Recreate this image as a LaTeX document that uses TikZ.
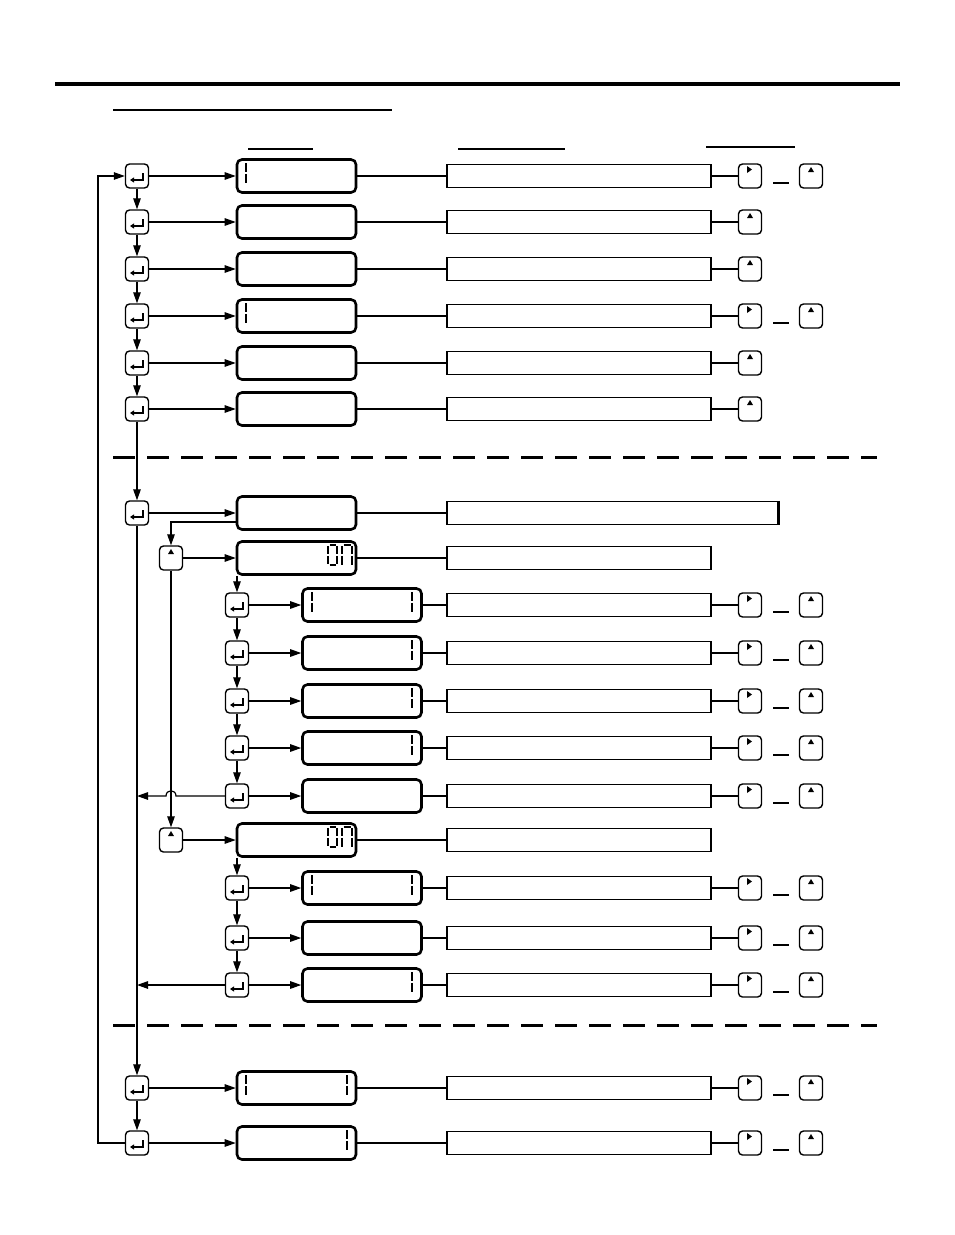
\documentclass[tikz,border=0pt]{standalone}
\usetikzlibrary{arrows.meta,calc}
\tikzset{
  btn/.style={draw, line width=1.4pt, rounded corners=4pt, minimum width=23pt, minimum height=24pt, inner sep=0pt, fill=white},
  esym/.style={line width=1.3pt, -{Triangle[length=4pt,width=5pt]}},
  disp/.style={draw, line width=2.6pt, rounded corners=5pt, minimum width=119pt, minimum height=33pt, inner sep=0pt},
  desc/.style={draw, line width=1.2pt, minimum width=264pt, minimum height=23pt, inner sep=0pt},
  arr/.style={line width=1.2pt, -{Triangle[length=11pt,width=7.5pt]}},
  conn/.style={line width=1.2pt},
  seg/.style={line width=2.3pt},
  sep/.style={line width=3pt, dash pattern=on 22pt off 12pt}
}
\newcommand\EB[2]{\node[btn] (#1) at (#2) {}; \draw[esym] ($(#1)+(6,-3)$) -- ++(0,7) -- ++(-13,0);}
\newcommand\UB[2]{\node[btn] (#1) at (#2) {}; \fill ($(#1)+(-3,-4)$) -- ++(6,0) -- ++(-3,-5) -- cycle;}
\newcommand\RB[2]{\node[btn] (#1) at (#2) {}; \fill ($(#1)+(-3,-10)$) -- ++(0,7) -- ++(5,-3.5) -- cycle;}
\newcommand\VBar[2]{\draw[seg] (#1,#2-13) -- (#1,#2-3.8) (#1,#2-2.2) -- (#1,#2+7);}
\newcommand\OnGlyph[1]{\draw[seg] (328,#1-12) -- (328,#1-3.8) (328,#1-2.2) -- (328,#1+6)
  (337,#1-12) -- (337,#1-3.8) (337,#1-2.2) -- (337,#1+6)
  (329.5,#1-13) -- (335.5,#1-13) (329.5,#1+7) -- (335.5,#1+7)
  (342,#1-12) -- (342,#1-3.8) (342,#1-2.2) -- (342,#1+7)
  (352,#1-12) -- (352,#1-3.8) (352,#1-2.2) -- (352,#1+7)
  (343.5,#1-13) -- (350.5,#1-13);}
\newcommand\Pair[2]{\RB{#1r}{750,#2}\UB{#1u}{811,#2}\draw[conn] (773,#2+7) -- (789,#2+7);}
\begin{document}
\begin{tikzpicture}[x=1pt,y=-1pt]
\useasboundingbox (0,0) rectangle (954,1235);
% header
\draw[line width=4pt] (55,84) -- (900,84);
\draw[line width=1.2pt] (113,110) -- (392,110);
\draw[line width=1.2pt] (248,149) -- (313,149);
\draw[line width=1.2pt] (458,149) -- (565,149);
\draw[line width=1.2pt] (706,147) -- (795,147);
% separators
\draw[sep] (113,457) -- (877,457);
\draw[sep] (113,1025) -- (877,1025);

% ---------- top section ----------
\EB{e1}{137,176} \EB{e2}{137,222} \EB{e3}{137,269} \EB{e4}{137,316} \EB{e5}{137,363} \EB{e6}{137,409}
\foreach \n/\y in {1/176,2/222,3/269,4/316,5/363,6/409}{
  \node[disp] (d\n) at (296.5,\y) {};
  \node[desc] (t\n) at (579,\y) {};
}
\VBar{246}{176}
\VBar{246}{316}
\Pair{p1}{176}
\UB{p2u}{750,222}
\UB{p3u}{750,269}
\Pair{p4}{316}
\UB{p5u}{750,363}
\UB{p6u}{750,409}
\foreach \n in {1,...,6}{ \draw[arr] (e\n) -- (d\n); }
\foreach \n in {1,...,5}{ \draw[conn] (d\n) -- (t\n); }
\draw[line width=2pt] (d6) -- (t6);
\draw[conn] (t1) -- (p1r); \draw[conn] (t2) -- (p2u); \draw[conn] (t3) -- (p3u);
\draw[conn] (t4) -- (p4r); \draw[conn] (t5) -- (p5u); \draw[conn] (t6) -- (p6u);
\draw[arr] (e1) -- (e2); \draw[arr] (e2) -- (e3); \draw[arr] (e3) -- (e4);
\draw[arr] (e4) -- (e5); \draw[arr] (e5) -- (e6);

% ---------- middle section ----------
\EB{m1}{137,513}
\node[disp] (dm1) at (296.5,513) {};
\node[desc, minimum width=331pt] (tm1) at (612.5,513) {};
\draw[line width=2.4pt] (tm1.north east) -- (tm1.south east);
\draw[arr] (e6) -- (m1);
\draw[arr] (m1) -- (dm1);
\draw[conn] (dm1) -- (tm1);

\UB{u1}{171,558}
\node[disp] (du1) at (296.5,558) {};
\OnGlyph{558}
\node[desc] (tu1) at (579,558) {};
\draw[arr] ([yshift=-9pt]dm1.west) -| (u1);
\draw[arr] (u1) -- (du1);
\draw[conn] (du1) -- (tu1);

\foreach \n/\y in {1/605,2/653,3/701,4/748,5/796,6/888,7/938,8/985}{
  \EB{s\n}{237,\y}
  \node[disp] (ds\n) at (362,\y) {};
  \node[desc] (ts\n) at (579,\y) {};
  \Pair{q\n}{\y}
  \draw[arr] (s\n) -- (ds\n);
  \draw[conn] (ds\n) -- (ts\n);
  \draw[conn] (ts\n) -- (q\n r);
}
\VBar{312}{605}\VBar{412}{605}
\VBar{412}{653}
\VBar{412}{701}
\VBar{412}{748}
\VBar{312}{888}\VBar{412}{888}
\VBar{412}{985}

\draw[arr] (du1.south -| s1) -- (s1);
\draw[arr] (s1) -- (s2); \draw[arr] (s2) -- (s3); \draw[arr] (s3) -- (s4); \draw[arr] (s4) -- (s5);

\UB{u2}{171,840}
\node[disp] (du2) at (296.5,840) {};
\OnGlyph{840}
\node[desc] (tu2) at (579,840) {};
\draw[arr] (u1) -- (u2);
\draw[arr] (u2) -- (du2);
\draw[conn] (du2) -- (tu2);
\draw[arr] (du2.south -| s6) -- (s6);
\draw[arr] (s6) -- (s7); \draw[arr] (s7) -- (s8);

% returns to main line
\coordinate (h1) at (176,796);
\coordinate (h2) at (166,796);
\draw[arr] (s5.west) -- (h1) .. controls (176,789) and (166,789) .. (h2) -- (m1 |- s5);
\draw[arr] (s8.west) -- (m1 |- s8);

% ---------- bottom section ----------
\EB{b1}{137,1088}
\EB{b2}{137,1143}
\node[disp] (db1) at (296.5,1088) {};
\node[disp] (db2) at (296.5,1143) {};
\node[desc] (tb1) at (579,1088) {};
\node[desc] (tb2) at (579,1143) {};
\VBar{246}{1088}\VBar{347}{1088}
\VBar{347}{1143}
\Pair{pb1}{1088}
\Pair{pb2}{1143}
\draw[arr] (m1) -- (b1);
\draw[arr] (b1) -- (b2);
\draw[arr] (b1) -- (db1);
\draw[arr] (b2) -- (db2);
\draw[conn] (db1) -- (tb1); \draw[conn] (db2) -- (tb2);
\draw[conn] (tb1) -- (pb1r); \draw[conn] (tb2) -- (pb2r);

% loop back
\coordinate (loop) at (98,660);
\draw[arr] (b2.west) -| (loop) |- (e1.west);
\end{tikzpicture}
\end{document}
